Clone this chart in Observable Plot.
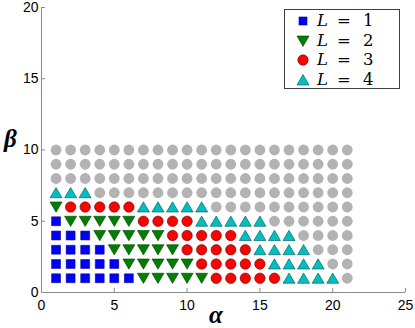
<!DOCTYPE html>
<html>
<head>
<meta charset="utf-8">
<script src="https://cdn.jsdelivr.net/npm/d3@7"></script>
<script src="https://cdn.jsdelivr.net/npm/@observablehq/plot@0.6"></script>
<style>
  html, body { margin: 0; padding: 0; background: #fff; }
  #wrap { position: relative; width: 415px; height: 328px; overflow: hidden; }
  .lab { position: absolute; font-family: "Liberation Serif", "DejaVu Serif", serif; font-style: italic; font-weight: bold; color: #000; line-height: 26px; }
  #legend { position: absolute; left: 284px; top: 9px; width: 114px; height: 78px; border: 1px solid #404040; background: #fff; }
  .entry { position: absolute; left: 0; height: 19px; width: 114px; }
  .entry svg { position: absolute; left: 11px; top: 3px; }
  .entry span { position: absolute; top: 0px; line-height: 19px; font-family: "DejaVu Serif", "Liberation Serif", serif; font-size: 16.5px; white-space: pre; color: #000; }
  .entry .v { font-style: italic; left: 32px; }
  .entry .eq { left: 52px; }
  .entry .n { left: 78px; }
</style>
</head>
<body>
<div id="wrap"></div>
<script>
// ---- data ----
const alphas = d3.range(1, 22);        // α = 1..21
const betas = d3.range(1, 11);         // β = 1..10
// level L for each (β row, α column); 0 = grey (none)
const levelRows = [
  [1,1,1,1,1,1,2,2,2,2,2,3,3,3,3,3,4,4,4,4,0], // β=1
  [1,1,1,1,1,2,2,2,2,2,3,3,3,3,3,4,4,4,4,0,0], // β=2
  [1,1,1,1,2,2,2,2,2,3,3,3,3,3,4,4,4,4,0,0,0], // β=3
  [1,1,1,2,2,2,2,2,3,3,3,3,3,4,4,4,4,0,0,0,0], // β=4
  [1,2,2,2,2,2,3,3,3,3,4,4,4,4,4,0,0,0,0,0,0], // β=5
  [2,3,3,3,3,3,4,4,4,4,4,0,0,0,0,0,0,0,0,0,0], // β=6
  [4,4,4,0,0,0,0,0,0,0,0,0,0,0,0,0,0,0,0,0,0], // β=7
  [0,0,0,0,0,0,0,0,0,0,0,0,0,0,0,0,0,0,0,0,0], // β=8
  [0,0,0,0,0,0,0,0,0,0,0,0,0,0,0,0,0,0,0,0,0], // β=9
  [0,0,0,0,0,0,0,0,0,0,0,0,0,0,0,0,0,0,0,0,0]  // β=10
];
const levels = [1, 2, 3, 4];
const levelLabels = ["L = 1", "L = 2", "L = 3", "L = 4"];
const xTicks = [0, 5, 10, 15, 20, 25];
const yTicks = [0, 5, 10, 15, 20];

// ---- build table ----
const pts = [];
betas.forEach((b, i) => alphas.forEach((a, j) => pts.push({alpha: a, beta: b, L: levelRows[i][j]})));

// custom symbols
const triUp = {draw(ctx, size) { const r = Math.sqrt(size / Math.PI); const w = 1.2 * r, h = 1.0 * r;
  ctx.moveTo(0, -h - 0.2); ctx.lineTo(w, h); ctx.lineTo(-w, h); ctx.closePath(); }};
const triDown = {draw(ctx, size) { const r = Math.sqrt(size / Math.PI); const w = 1.2 * r, h = 1.0 * r;
  ctx.moveTo(0, h + 0.2); ctx.lineTo(w, -h); ctx.lineTo(-w, -h); ctx.closePath(); }};

const styles = {
  1: {symbol: "square", fill: "#0000ff", stroke: "#00008a", r: 5},
  2: {symbol: triDown, fill: "#007f00", stroke: "#003f00", r: 5},
  3: {symbol: "circle", fill: "#ff0000", stroke: "#6a0000", r: 5.2},
  4: {symbol: triUp, fill: "#00bfbf", stroke: "#005050", r: 5}
};

const chart = Plot.plot({
  width: 415, height: 328,
  marginLeft: 41, marginRight: 10, marginTop: 7, marginBottom: 36,
  x: {domain: [0, 25]},
  y: {domain: [0, 20]},
  style: {fontFamily: "'Liberation Sans', Arial, sans-serif", fontSize: "14px", color: "#000", background: "#fff", overflow: "visible"},
  marks: [
    Plot.ruleX([0], {stroke: "#8a8a8a", strokeWidth: 1}),
    Plot.ruleY([0], {stroke: "#8a8a8a", strokeWidth: 1}),
    Plot.dot(pts.filter(d => d.L === 0), {x: "alpha", y: "beta", r: 5.4, fill: "#b3b3b3", stroke: "none"}),
    ...levels.map(l => Plot.dot(pts.filter(d => d.L === l), {
      x: "alpha", y: "beta", symbol: styles[l].symbol, r: styles[l].r,
      fill: styles[l].fill, stroke: styles[l].stroke, strokeWidth: 0.6
    })),
    Plot.axisX({ticks: xTicks, tickSize: -4, tickPadding: 12, stroke: "#8a8a8a", fill: "#000", label: null}),
    Plot.axisY({ticks: yTicks, tickSize: -4, tickPadding: 7, stroke: "#8a8a8a", fill: "#000", label: null})
  ]
});

const wrap = document.getElementById("wrap");
wrap.appendChild(chart);

// axis labels
const ax = document.createElement("div");
ax.className = "lab"; ax.textContent = "α";
ax.style.cssText = "left:209px; top:302px; font-size:25px;";
wrap.appendChild(ax);
const by = document.createElement("div");
by.className = "lab"; by.textContent = "β";
by.style.cssText = "left:4px; top:126px; font-size:25px;";
wrap.appendChild(by);

// legend
const leg = document.createElement("div");
leg.id = "legend";
const shapes = {
  1: '<rect x="3" y="3" width="8" height="8" fill="#0000ff" stroke="#00008a" stroke-width="0.6"/>',
  2: '<path d="M1,2 L13,2 L7,12.5 Z" fill="#007f00" stroke="#003f00" stroke-width="0.6"/>',
  3: '<circle cx="7" cy="7" r="5.2" fill="#ff0000" stroke="#6a0000" stroke-width="0.6"/>',
  4: '<path d="M1,12 L13,12 L7,1.5 Z" fill="#00bfbf" stroke="#005050" stroke-width="0.6"/>'
};
levels.forEach((l, i) => {
  const e = document.createElement("div");
  e.className = "entry";
  e.style.top = (1 + i * 19.6) + "px";
  const parts = levelLabels[i].split(" = ");
  e.innerHTML = `<svg width="14" height="14">${shapes[l]}</svg><span class="v">${parts[0]}</span><span class="eq">=</span><span class="n">${parts[1]}</span>`;
  leg.appendChild(e);
});
wrap.appendChild(leg);
</script>
</body>
</html>
